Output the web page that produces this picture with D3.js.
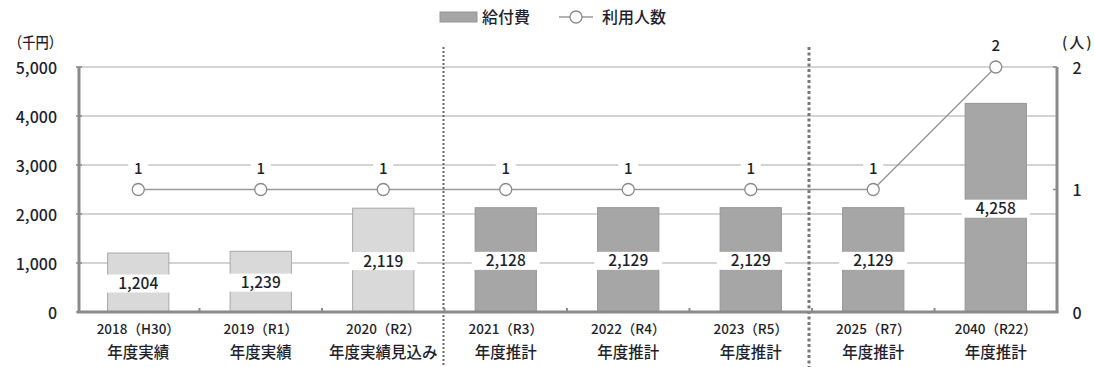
<!DOCTYPE html>
<html lang="ja">
<head>
<meta charset="utf-8">
<script src="https://cdn.jsdelivr.net/npm/d3@7"></script>
<style>
  html, body { margin: 0; padding: 0; background: #fff; }
  svg { display: block; font-family: "Noto Sans CJK JP", "Noto Sans", sans-serif; }
</style>
</head>
<body>
<svg id="chart" width="1094" height="367"></svg>
<script>
// 年度区分
const years = ["2018（H30）", "2019（R1）", "2020（R2）", "2021（R3）", "2022（R4）", "2023（R5）", "2025（R7）", "2040（R22）"];
const yearNotes = ["年度実績", "年度実績", "年度実績見込み", "年度推計", "年度推計", "年度推計", "年度推計", "年度推計"];
// 給付費（千円）
const benefitCost = [1204, 1239, 2119, 2128, 2129, 2129, 2129, 4258];
// 利用人数（人）
const users = [1, 1, 1, 1, 1, 1, 1, 2];
// 実績 / 推計 の区分
const isActual = [true, true, true, false, false, false, false, false];
// 軸目盛
const costTicks = [0, 1000, 2000, 3000, 4000, 5000];
const userTicks = [0, 1, 2];

const svg = d3.select("#chart");
const plotLeft = 77, plotRight = 1057, plotTop = 67, plotBottom = 312;
const textColor = "#1f1f2e";

const x = d3.scaleBand().domain(years).range([plotLeft, plotRight]).paddingInner(0.5).paddingOuter(0.25);
const yCost = d3.scaleLinear().domain([0, 5000]).range([plotBottom, plotTop]);
const yUsers = d3.scaleLinear().domain([0, 2]).range([plotBottom, plotTop]);
const fmt = d3.format(",");

// グリッド線
svg.append("g").selectAll("line").data(costTicks.filter(d => d > 0)).join("line")
  .attr("x1", plotLeft).attr("x2", plotRight)
  .attr("y1", d => yCost(d)).attr("y2", d => yCost(d))
  .attr("stroke", "#c4c4c4").attr("stroke-width", 1.5);

// 棒（給付費）
svg.append("g").selectAll("rect").data(benefitCost).join("rect")
  .attr("x", (d, i) => x(years[i]))
  .attr("width", x.bandwidth())
  .attr("y", d => yCost(d))
  .attr("height", d => plotBottom - yCost(d))
  .attr("fill", (d, i) => isActual[i] ? "#d9d9d9" : "#a6a6a6")
  .attr("stroke", (d, i) => isActual[i] ? "#a8a8a8" : "#959595")
  .attr("stroke-width", 1);

// 区分線（実績見込み／推計、推計期間の区切り）
const step = x.step();
const gap = (step - x.bandwidth()) / 2;
const div1 = x(years[3]) - gap - 1;
const div2 = x(years[6]) - gap - 3;
svg.append("line").attr("x1", div1).attr("x2", div1).attr("y1", 47).attr("y2", 367)
  .attr("stroke", "#666").attr("stroke-width", 2).attr("stroke-dasharray", "2,2");
svg.append("line").attr("x1", div2).attr("x2", div2).attr("y1", 47).attr("y2", 367)
  .attr("stroke", "#777").attr("stroke-width", 3).attr("stroke-dasharray", "3,2.5");

// 軸線
const axisColor = "#8a8a8a";
svg.append("line").attr("x1", plotLeft + 2).attr("x2", plotLeft + 2).attr("y1", plotTop).attr("y2", plotBottom + 1)
  .attr("stroke", axisColor).attr("stroke-width", 3);
svg.append("line").attr("x1", plotRight).attr("x2", plotRight).attr("y1", plotTop).attr("y2", plotBottom + 1)
  .attr("stroke", axisColor).attr("stroke-width", 3);
svg.append("line").attr("x1", plotLeft).attr("x2", plotRight + 1.5).attr("y1", plotBottom).attr("y2", plotBottom)
  .attr("stroke", axisColor).attr("stroke-width", 3);

// 左軸の目盛り
svg.append("g").selectAll("line").data(costTicks).join("line")
  .attr("x1", plotLeft - 1).attr("x2", plotLeft + 5)
  .attr("y1", d => yCost(d)).attr("y2", d => yCost(d))
  .attr("stroke", axisColor).attr("stroke-width", 1.5);
// 右軸の目盛り
svg.append("g").selectAll("line").data(userTicks).join("line")
  .attr("x1", plotRight - 4).attr("x2", plotRight)
  .attr("y1", d => yUsers(d)).attr("y2", d => yUsers(d))
  .attr("stroke", axisColor).attr("stroke-width", 1.5);
// 横軸の区切り目盛り
svg.append("g").selectAll("line").data(years.slice(1)).join("line")
  .attr("x1", d => x(d) - gap)
  .attr("x2", d => x(d) - gap)
  .attr("y1", plotBottom - 4).attr("y2", plotBottom)
  .attr("stroke", axisColor).attr("stroke-width", 2);

// 棒の値ラベル（白地）
const valG = svg.append("g").selectAll("g").data(benefitCost).join("g")
  .attr("transform", (d, i) => `translate(${x(years[i]) + x.bandwidth() / 2},${(plotBottom + yCost(d)) / 2 + 1})`);
valG.append("rect").attr("x", -34).attr("y", -9).attr("width", 68).attr("height", 18).attr("fill", "#fff");
valG.append("text").text(d => fmt(d))
  .attr("text-anchor", "middle").attr("dy", "0.36em")
  .attr("font-size", 15.5).attr("font-weight", 500).attr("fill", textColor);

// 折れ線（利用人数）
const line = d3.line().x((d, i) => x(years[i]) + x.bandwidth() / 2).y(d => yUsers(d));
svg.append("path").datum(users).attr("d", line)
  .attr("fill", "none").attr("stroke", "#999").attr("stroke-width", 1.5);

// 利用人数ラベル（白地）
const uLab = svg.append("g").selectAll("g").data(users).join("g")
  .attr("transform", (d, i) => `translate(${x(years[i]) + x.bandwidth() / 2},${yUsers(d) - 21})`);
uLab.append("rect").attr("x", -10).attr("y", -9).attr("width", 20).attr("height", 18).attr("fill", "#fff");
uLab.append("text").text(d => d)
  .attr("text-anchor", "middle").attr("dy", "0.36em")
  .attr("font-size", 15).attr("font-weight", 500).attr("fill", textColor);

svg.append("g").selectAll("circle").data(users).join("circle")
  .attr("cx", (d, i) => x(years[i]) + x.bandwidth() / 2)
  .attr("cy", d => yUsers(d))
  .attr("r", 6).attr("fill", "#fff").attr("stroke", "#8a8a8a").attr("stroke-width", 1.3);

// 左軸ラベル
svg.append("g").selectAll("text").data(costTicks).join("text")
  .attr("x", 57).attr("y", d => yCost(d) + 1).attr("dy", "0.36em")
  .attr("text-anchor", "end").attr("font-size", 16).attr("font-weight", 500).attr("fill", textColor)
  .text(d => fmt(d));
// 右軸ラベル
svg.append("g").selectAll("text").data(userTicks).join("text")
  .attr("x", 1077).attr("y", d => yUsers(d) + 1).attr("dy", "0.36em")
  .attr("text-anchor", "middle").attr("font-size", 16).attr("font-weight", 500).attr("fill", textColor)
  .text(d => d);

// 単位
svg.append("text").attr("x", 9).attr("y", 43).attr("dy", "0.36em")
  .attr("font-size", 15).attr("font-weight", 500).attr("fill", textColor)
  .attr("textLength", 53).attr("lengthAdjust", "spacingAndGlyphs").text("（千円）");
svg.append("text").attr("x", 1062).attr("y", 43).attr("dy", "0.36em")
  .attr("font-size", 15).attr("font-weight", 500).attr("fill", textColor)
  .attr("letter-spacing", 2).text("(人)");

// 横軸ラベル
const catG = svg.append("g").selectAll("g").data(years).join("g")
  .attr("transform", d => `translate(${x(d) + x.bandwidth() / 2},0)`);
catG.append("text").attr("y", 329).attr("dy", "0.36em").attr("text-anchor", "middle")
  .attr("font-size", 13.5).attr("font-weight", 500).attr("fill", textColor).text(d => d);
catG.append("text").attr("y", 352).attr("dy", "0.36em").attr("text-anchor", "middle")
  .attr("font-size", 15.5).attr("font-weight", 500).attr("fill", textColor)
  .text((d, i) => yearNotes[i]);

// 凡例
const leg = svg.append("g");
leg.append("rect").attr("x", 440).attr("y", 12).attr("width", 37).attr("height", 10)
  .attr("fill", "#a6a6a6").attr("stroke", "#959595");
leg.append("text").attr("x", 482).attr("y", 17).attr("dy", "0.36em")
  .attr("font-size", 16).attr("font-weight", 500).attr("fill", textColor).text("給付費");
leg.append("line").attr("x1", 559).attr("x2", 593).attr("y1", 17).attr("y2", 17)
  .attr("stroke", "#999").attr("stroke-width", 1.5);
leg.append("circle").attr("cx", 576).attr("cy", 17).attr("r", 6)
  .attr("fill", "#fff").attr("stroke", "#8a8a8a").attr("stroke-width", 1.3);
leg.append("text").attr("x", 602).attr("y", 17).attr("dy", "0.36em")
  .attr("font-size", 16).attr("font-weight", 500).attr("fill", textColor).text("利用人数");
</script>
</body>
</html>
